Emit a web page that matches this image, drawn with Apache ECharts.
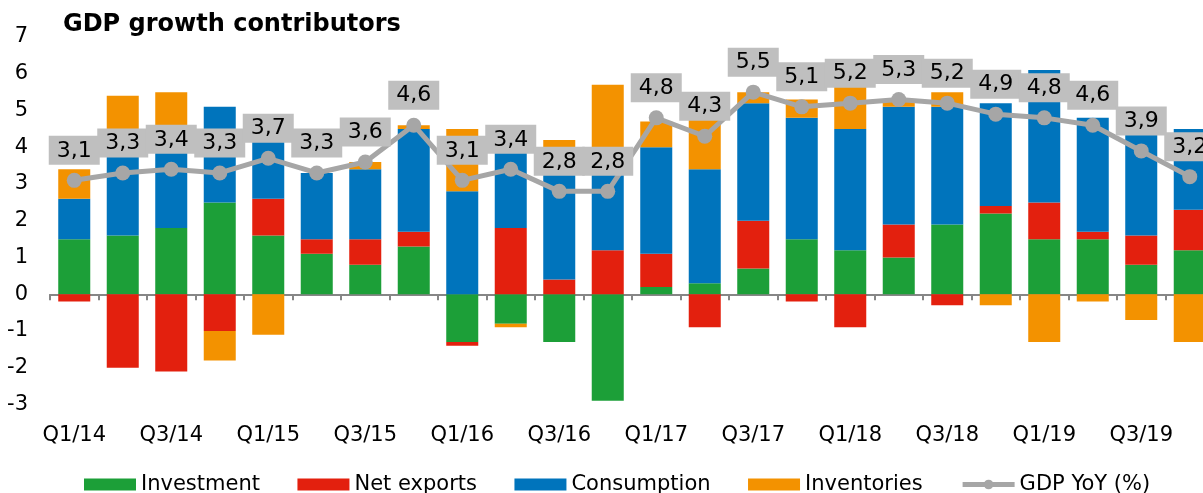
<!DOCTYPE html>
<html>
<head>
<meta charset="utf-8">
<script src="https://cdn.jsdelivr.net/npm/echarts@6/dist/echarts.min.js"></script>
<style>
  html, body { margin: 0; padding: 0; background: #fff; }
  #main { width: 1203px; height: 493px; }
</style>
</head>
<body>
<div id="main"></div>
<script>
var categories = ['Q1/14', 'Q2/14', 'Q3/14', 'Q4/14', 'Q1/15', 'Q2/15', 'Q3/15', 'Q4/15',
                  'Q1/16', 'Q2/16', 'Q3/16', 'Q4/16', 'Q1/17', 'Q2/17', 'Q3/17', 'Q4/17',
                  'Q1/18', 'Q2/18', 'Q3/18', 'Q4/18', 'Q1/19', 'Q2/19', 'Q3/19', 'Q4/19'];
var investment  = [1.5, 1.6, 1.8, 2.5, 1.6, 1.1, 0.8, 1.3, -1.3, -0.8, -1.3, -2.9,
                   0.2, 0.3, 0.7, 1.5, 1.2, 1.0, 1.9, 2.2, 1.5, 1.5, 0.8, 1.2];
var netExports  = [-0.2, -2.0, -2.1, -1.0, 1.0, 0.4, 0.7, 0.4, -0.1, 1.8, 0.4, 1.2,
                   0.9, -0.9, 1.3, -0.2, -0.9, 0.9, -0.3, 0.2, 1.0, 0.2, 0.8, 1.1];
var consumption = [1.1, 2.7, 2.6, 2.6, 2.1, 1.8, 1.9, 2.8, 2.8, 2.4, 3.6, 2.4,
                   2.9, 3.1, 3.2, 3.3, 3.3, 3.2, 3.2, 2.8, 3.6, 3.1, 2.9, 2.2];
var inventories = [0.8, 1.1, 1.1, -0.8, -1.1, 0, 0.2, 0.1, 1.7, -0.1, 0.2, 2.1,
                   0.7, 1.8, 0.3, 0.5, 1.6, 0.2, 0.4, -0.3, -1.3, -0.2, -0.7, -1.3];
var gdpYoY      = [3.1, 3.3, 3.4, 3.3, 3.7, 3.3, 3.6, 4.6, 3.1, 3.4, 2.8, 2.8,
                   4.8, 4.3, 5.5, 5.1, 5.2, 5.3, 5.2, 4.9, 4.8, 4.6, 3.9, 3.2];

var font = 'DejaVu Sans, Verdana, sans-serif';
var myChart = echarts.init(document.getElementById('main'));

function barSeries(name, data, color) {
    return {
        name: name,
        type: 'bar',
        stack: 'gdp',
        barWidth: '66%',
        data: data,
        itemStyle: { color: color },
        emphasis: { disabled: true }
    };
}

var option = {
    backgroundColor: '#fff',
    animation: false,
    textStyle: { fontFamily: font },
    title: {
        text: 'GDP growth contributors',
        left: 58,
        top: 8,
        textStyle: { fontFamily: font, fontSize: 24, fontWeight: 'bold', color: '#000' }
    },
    legend: {
        left: 79,
        top: 469,
        itemWidth: 52,
        itemHeight: 12,
        itemGap: 37.5,
        textStyle: { fontFamily: font, fontSize: 21, color: '#000' },
        data: [
            { name: 'Investment', icon: 'rect' },
            { name: 'Net exports', icon: 'rect' },
            { name: 'Consumption', icon: 'rect' },
            { name: 'Inventories', icon: 'rect' },
            { name: 'GDP YoY (%)', lineStyle: { width: 5 } }
        ]
    },
    grid: { left: 50, top: 37, width: 1164, height: 367.5, outerBoundsMode: 'none', containLabel: false },
    xAxis: [
        {
            type: 'category',
            data: categories,
            axisLine: { onZero: true, lineStyle: { color: '#868686', width: 2 } },
            axisTick: { show: true, length: 6, lineStyle: { color: '#868686', width: 2 } },
            axisLabel: { show: false }
        },
        {
            type: 'category',
            data: categories,
            position: 'bottom',
            axisLine: { show: false, onZero: false },
            axisTick: { show: false },
            axisLabel: { interval: 1, margin: 21, fontSize: 21, color: '#000', fontFamily: font }
        }
    ],
    yAxis: {
        type: 'value',
        min: -3,
        max: 7,
        interval: 1,
        axisLine: { show: false },
        axisTick: { show: false },
        splitLine: { show: false },
        axisLabel: { margin: 22, fontSize: 21, color: '#000', fontFamily: font }
    },
    series: [
        barSeries('Investment', investment, '#1c9f38'),
        barSeries('Net exports', netExports, '#e3200e'),
        barSeries('Consumption', consumption, '#0074bc'),
        barSeries('Inventories', inventories, '#f39200'),
        {
            name: 'GDP YoY (%)',
            type: 'line',
            data: gdpYoY,
            z: 5,
            symbol: 'circle',
            symbolSize: 15,
            lineStyle: { color: '#a6a6a6', width: 5 },
            itemStyle: { color: '#a6a6a6' },
            emphasis: { disabled: true },
            label: {
                show: true,
                position: 'top',
                distance: 8,
                fontFamily: font,
                fontSize: 22,
                lineHeight: 22,
                color: '#000',
                backgroundColor: '#bfbfbf',
                padding: [4, 8, 3, 8],
                formatter: function (p) {
                    return p.value.toFixed(1).replace('.', ',');
                }
            }
        }
    ]
};

myChart.setOption(option);
</script>
</body>
</html>
